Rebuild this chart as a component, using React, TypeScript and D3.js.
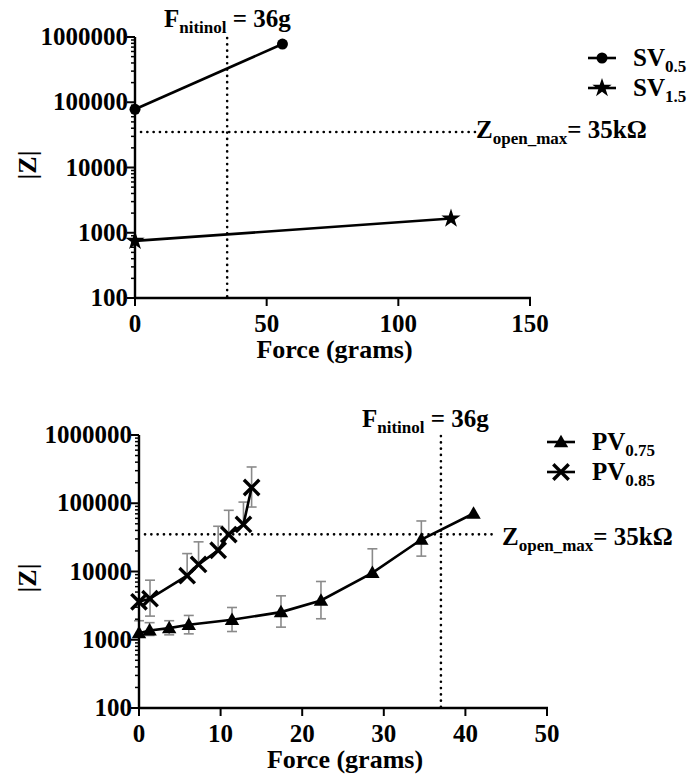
import React from "react";
import * as d3 from "d3";

// top panel: SV series
const svForceA = [0, 56];
const svZA = [78000, 780000];
const svForceB = [0, 120];
const svZB = [750, 1650];

// bottom panel: PV series (mean, upper / lower error ends)
const pvForceA = [0, 1.3, 3.7, 6.1, 11.4, 17.4, 22.3, 28.6, 34.6, 41.0];
const pvZA = [1250, 1370, 1480, 1660, 1960, 2540, 3760, 9560, 29400, 70700];
const pvUpA = [1900, 1780, 1900, 2270, 2970, 4400, 7140, 21500, 55000, null];
const pvLoA = [null, 1155, 1180, 1220, 1320, 1530, 2030, null, 16800, null];

const pvForceB = [0, 1.35, 5.9, 7.3, 9.7, 11.0, 12.8, 13.8];
const pvZB = [3600, 4000, 8700, 12700, 20500, 34800, 48900, 170000];
const pvUpB = [null, 7460, 18300, 27200, 46000, 78800, 104000, 340000];
const pvLoB = [null, 2220, null, null, null, null, null, 88000];

const yMajor = [100, 1000, 10000, 100000, 1000000];
const topXTicks = [0, 50, 100, 150];
const botXTicks = [0, 10, 20, 30, 40, 50];

const zOpenMax = 35000;
const fTop = 35;
const fBot = 37;

const TXT = { fontFamily: '"Liberation Serif"', fontWeight: "bold" as const };

type Marker = "circle" | "star" | "triangle" | "cross";

function MarkerShape({ kind, x, y }: { kind: Marker; x: number; y: number }) {
  if (kind === "circle") return <circle cx={x} cy={y} r={5.5} fill="#000" />;
  if (kind === "cross") {
    const s = 6.5;
    return (
      <g stroke="#000" strokeWidth={3.4} strokeLinecap="square">
        <line x1={x - s} y1={y - s} x2={x + s} y2={y + s} />
        <line x1={x - s} y1={y + s} x2={x + s} y2={y - s} />
      </g>
    );
  }
  const sym = kind === "star" ? d3.symbolStar : d3.symbolTriangle;
  const size = kind === "star" ? 115 : 90;
  const path = d3.symbol().type(sym).size(size)() ?? "";
  return <path d={path} transform={`translate(${x},${y + (kind === "triangle" ? 1 : 0)})`} fill="#000" />;
}

function LogYAxis({ y, x0 }: { y: d3.ScaleLogarithmic<number, number>; x0: number }) {
  const minors: number[] = [];
  yMajor.slice(0, -1).forEach((m) => {
    for (let k = 2; k <= 9; k++) minors.push(m * k);
  });
  const [r0, r1] = y.range();
  return (
    <g>
      <line x1={x0} x2={x0} y1={r0 + 1} y2={r1} stroke="#000" strokeWidth={2.4} />
      {minors.map((v) => (
        <line key={v} x1={x0 - 4} x2={x0} y1={y(v)} y2={y(v)} stroke="#000" strokeWidth={1.5} />
      ))}
      {yMajor.map((v) => (
        <g key={v}>
          <line x1={x0 - 8} x2={x0} y1={y(v)} y2={y(v)} stroke="#000" strokeWidth={2} />
          <text x={x0 - 7} y={y(v) + 8} textAnchor="end" fontSize={25} style={TXT}>
            {v}
          </text>
        </g>
      ))}
    </g>
  );
}

function XAxis({ x, y0, ticks }: { x: d3.ScaleLinear<number, number>; y0: number; ticks: number[] }) {
  const [r0, r1] = x.range();
  return (
    <g>
      <line x1={r0 - 1} x2={r1 + 1} y1={y0} y2={y0} stroke="#000" strokeWidth={2.4} />
      {ticks.map((t) => (
        <g key={t}>
          <line x1={x(t)} x2={x(t)} y1={y0} y2={y0 + 8} stroke="#000" strokeWidth={2} />
          <text x={x(t)} y={y0 + 34} textAnchor="middle" fontSize={25} style={TXT}>
            {t}
          </text>
        </g>
      ))}
      <text x={(r0 + r1) / 2 + 2} y={y0 + 60} textAnchor="middle" fontSize={26} style={TXT}>
        Force (grams)
      </text>
    </g>
  );
}

function Series({
  x, y, force, z, marker, up, lo,
}: {
  x: d3.ScaleLinear<number, number>;
  y: d3.ScaleLogarithmic<number, number>;
  force: number[];
  z: number[];
  marker: Marker;
  up?: (number | null)[];
  lo?: (number | null)[];
}) {
  const pts = force.map((f, i) => [f, z[i]] as [number, number]);
  const line = d3.line<[number, number]>().x((d) => x(d[0])).y((d) => y(d[1]));
  return (
    <g>
      <g stroke="#8a8a8a" strokeWidth={1.6} fill="none">
        {pts.map((d, i) => {
          const cx = x(d[0]);
          const u = up?.[i];
          const l = lo?.[i];
          return (
            <g key={i}>
              {u != null && (
                <>
                  <line x1={cx} x2={cx} y1={y(d[1])} y2={y(u)} />
                  <line x1={cx - 5} x2={cx + 5} y1={y(u)} y2={y(u)} />
                </>
              )}
              {l != null && (
                <>
                  <line x1={cx} x2={cx} y1={y(d[1])} y2={y(l)} />
                  <line x1={cx - 5} x2={cx + 5} y1={y(l)} y2={y(l)} />
                </>
              )}
            </g>
          );
        })}
      </g>
      <path d={line(pts) ?? ""} fill="none" stroke="#000" strokeWidth={2.6} />
      {pts.map((d, i) => (
        <MarkerShape key={i} kind={marker} x={x(d[0])} y={y(d[1])} />
      ))}
    </g>
  );
}

function SubLabel({ x, y, main, sub, rest, size = 25 }: { x: number; y: number; main: string; sub: string; rest?: string; size?: number }) {
  return (
    <text x={x} y={y} fontSize={size} style={TXT}>
      <tspan>{main}</tspan>
      <tspan fontSize={size * 0.68} dy={6}>{sub}</tspan>
      {rest && <tspan fontSize={size} dy={-6}>{rest}</tspan>}
    </text>
  );
}

function Legend({ x, y, items }: { x: number; y: number; items: { marker: Marker; main: string; sub: string }[] }) {
  return (
    <g>
      {items.map((it, i) => (
        <g key={i}>
          <line x1={x} x2={x + 28} y1={y + i * 30} y2={y + i * 30} stroke="#000" strokeWidth={2.6} />
          <MarkerShape kind={it.marker} x={x + 14} y={y + i * 30} />
          <SubLabel x={x + 45} y={y + i * 30 + 8} main={it.main} sub={it.sub} />
        </g>
      ))}
    </g>
  );
}

function DottedLine(props: { x1: number; x2: number; y1: number; y2: number }) {
  return <line {...props} stroke="#000" strokeWidth={2.6} strokeDasharray="0.1 6.2" strokeLinecap="round" />;
}

export default function App() {
  const topX = d3.scaleLinear().domain([0, 150]).range([135, 530]);
  const topY = d3.scaleLog().domain([100, 1e6]).range([298, 37]);
  const botX = d3.scaleLinear().domain([0, 50]).range([139, 547]);
  const botY = d3.scaleLog().domain([100, 1e6]).range([708, 435]);

  return (
    <svg
      width={690}
      height={781}
      style={{ display: "block", background: "#fff", position: "absolute", left: 0, top: 0 }}
    >
      {/* top panel */}
      <g>
        <DottedLine x1={topX(fTop)} x2={topX(fTop)} y1={38} y2={topY(100)} />
        <DottedLine x1={topX(0) + 6} x2={476} y1={topY(zOpenMax)} y2={topY(zOpenMax)} />
        <SubLabel x={164} y={27} main="F" sub="nitinol" rest=" = 36g" size={25} />
        <SubLabel x={476} y={138} main="Z" sub="open_max" rest="= 35kΩ" size={25} />
        <Series x={topX} y={topY} force={svForceA} z={svZA} marker="circle" />
        <Series x={topX} y={topY} force={svForceB} z={svZB} marker="star" />
        <LogYAxis y={topY} x0={topX(0)} />
        <XAxis x={topX} y0={topY(100)} ticks={topXTicks} />
        <text transform="translate(36,165) rotate(-90)" textAnchor="middle" fontSize={26} style={TXT}>
          |Z|
        </text>
        <Legend
          x={588}
          y={58}
          items={[
            { marker: "circle", main: "SV", sub: "0.5" },
            { marker: "star", main: "SV", sub: "1.5" },
          ]}
        />
      </g>
      {/* bottom panel */}
      <g>
        <DottedLine x1={botX(fBot)} x2={botX(fBot)} y1={436} y2={botY(100)} />
        <DottedLine x1={botX(0) + 6} x2={494} y1={botY(zOpenMax)} y2={botY(zOpenMax)} />
        <SubLabel x={362} y={427} main="F" sub="nitinol" rest=" = 36g" size={25} />
        <SubLabel x={502} y={545} main="Z" sub="open_max" rest="= 35kΩ" size={25} />
        <Series x={botX} y={botY} force={pvForceA} z={pvZA} marker="triangle" up={pvUpA} lo={pvLoA} />
        <Series x={botX} y={botY} force={pvForceB} z={pvZB} marker="cross" up={pvUpB} lo={pvLoB} />
        <LogYAxis y={botY} x0={botX(0)} />
        <XAxis x={botX} y0={botY(100)} ticks={botXTicks} />
        <text transform="translate(36,578) rotate(-90)" textAnchor="middle" fontSize={26} style={TXT}>
          |Z|
        </text>
        <Legend
          x={547}
          y={442}
          items={[
            { marker: "triangle", main: "PV", sub: "0.75" },
            { marker: "cross", main: "PV", sub: "0.85" },
          ]}
        />
      </g>
    </svg>
  );
}
